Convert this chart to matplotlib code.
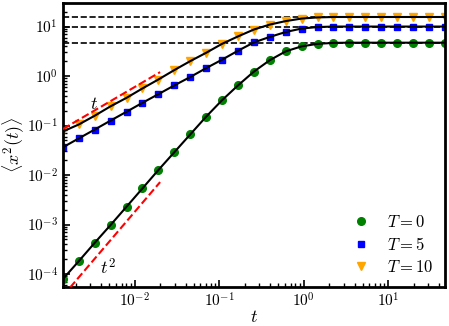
import numpy as np
import matplotlib.pyplot as plt

plt.rcParams["font.family"] = "serif"
plt.rcParams["font.serif"] = ["cmr10", "DejaVu Serif"]
plt.rcParams["mathtext.fontset"] = "cm"
plt.rcParams["axes.formatter.use_mathtext"] = True

# time points
t = [1.413e-3, 2.18e-3, 3.365e-3, 5.19e-3, 8.01e-3, 1.236e-2, 1.905e-2,
     2.94e-2, 4.54e-2, 7.01e-2, 0.108, 0.1667, 0.2576, 0.397, 0.614,
     0.946, 1.459, 2.254, 3.475, 5.37, 8.28, 12.77, 19.72, 30.4, 46.98]

msd_T0 = [7.9e-5, 1.82e-4, 4.27e-4, 9.8e-4, 2.29e-3, 5.37e-3, 1.26e-2,
          2.88e-2, 6.6e-2, 0.151, 0.324, 0.646, 1.23, 2.09, 3.16,
          3.98, 4.47, 4.68, 4.72, 4.72, 4.72, 4.72, 4.72, 4.72, 4.72]

msd_T5 = [0.0363, 0.055, 0.083, 0.126, 0.19, 0.288, 0.43,
          0.646, 0.955, 1.445, 2.14, 3.24, 4.78, 6.17, 7.76,
          9.12, 9.77, 10.0, 10.0, 10.0, 10.0, 10.0, 10.0, 10.0, 10.0]

msd_T10 = [0.0759, 0.105, 0.158, 0.245, 0.363, 0.562, 0.851,
           1.318, 2.0, 2.95, 4.47, 6.31, 8.71, 10.96, 12.9,
           14.5, 15.3, 15.6, 15.6, 15.6, 15.6, 15.6, 15.6, 15.6, 15.6]

plateaus = [4.72, 10.0, 15.6]

# guide lines ~ t and ~ t^2
guide_t_x = [1.413e-3, 2e-2]
guide_t_y = [0.085, 1.2]
guide_t2_x = [1.413e-3, 2e-2]
guide_t2_y = [3.6e-5, 7.2e-3]

fig = plt.figure(figsize=(4.49, 3.26), dpi=100)
ax = fig.add_axes([0.140, 0.120, 0.851, 0.871])

for p in plateaus:
    ax.axhline(p, color='k', linestyle='--', linewidth=1.2, zorder=1)

ax.plot(t, msd_T0, 'o', color='green', markersize=5.5, label=r'$T=0$', zorder=2)
ax.plot(t, msd_T5, 's', color='blue', markersize=5, label=r'$T=5$', zorder=2)
ax.plot(t, msd_T10, 'v', color='orange', markersize=6, label=r'$T=10$', zorder=2)

ax.plot(t, msd_T0, 'k-', linewidth=1.5, zorder=3)
ax.plot(t, msd_T5, 'k-', linewidth=1.5, zorder=3)
ax.plot(t, msd_T10, 'k-', linewidth=1.5, zorder=3)

ax.plot(guide_t_x, guide_t_y, 'r--', linewidth=1.5, zorder=3)
ax.plot(guide_t2_x, guide_t2_y, 'r--', linewidth=1.5, zorder=3)

ax.text(3.0e-3, 0.22, r'$t$', fontsize=13)
ax.text(3.9e-3, 1.0e-4, r'$t^2$', fontsize=13)

ax.set_xscale('log')
ax.set_yscale('log')
ax.set_xlim([1.413e-3, 47])
ax.set_ylim([5.5e-5, 30])

ax.set_xlabel(r'$t$', fontsize=13, labelpad=-1)
ax.set_ylabel(r'$\langle x^2(t) \rangle$', fontsize=13, labelpad=-0.5)

for s in ax.spines.values():
    s.set_linewidth(2)
ax.tick_params(which='both', direction='in', top=False, right=False, labelsize=11)
ax.tick_params(which='major', length=5, width=1.2)
ax.tick_params(which='minor', length=3, width=1)

ax.legend(loc='lower right', frameon=False, fontsize=12, handletextpad=0.6,
          labelspacing=0.35, bbox_to_anchor=(1.01, -0.01))

fig.savefig('out.png')
